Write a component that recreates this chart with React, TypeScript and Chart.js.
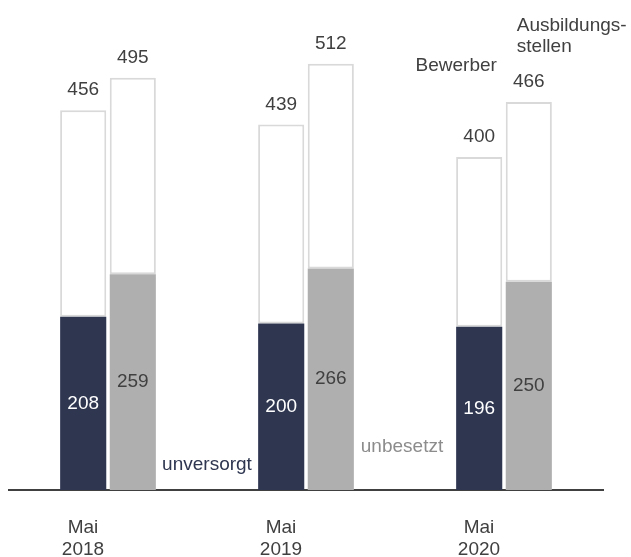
import React, { useEffect, useRef } from "react";
import { Chart, registerables } from "chart.js";

Chart.register(...registerables);

const categories: string[][] = [["Mai", "2018"], ["Mai", "2019"], ["Mai", "2020"]];
const bewerberTotal = [456, 439, 400];
const unversorgt = [208, 200, 196];
const stellenTotal = [495, 512, 466];
const unbesetzt = [259, 266, 250];

const FONT = "'Liberation Sans', Arial, sans-serif";
const TEXT = "#404040";
const NAVY = "#2e3650";
const GREY = "#afafaf";
const BORDER = "#d9d9d9";

const labelPlugin = {
  id: "labels",
  afterDatasetsDraw(chart: any) {
    const ctx = chart.ctx;
    const x = chart.scales.x;
    const y = chart.scales.y;
    ctx.save();
    ctx.font = `19px ${FONT}`;
    ctx.textBaseline = "middle";
    ctx.textAlign = "center";
    const m0 = chart.getDatasetMeta(0).data;
    const m1 = chart.getDatasetMeta(1).data;
    const m2 = chart.getDatasetMeta(2).data;
    const m3 = chart.getDatasetMeta(3).data;
    for (let i = 0; i < categories.length; i++) {
      const b0 = m0[i];
      ctx.fillStyle = "#ffffff";
      ctx.fillText(String(unversorgt[i]), b0.x, (b0.y + b0.base) / 2);
      const b2 = m2[i];
      ctx.fillStyle = TEXT;
      ctx.fillText(String(unbesetzt[i]), b2.x, (b2.y + b2.base) / 2);
      const b1 = m1[i];
      ctx.fillText(String(bewerberTotal[i]), b1.x, b1.y - 20);
      const b3 = m3[i];
      ctx.fillText(String(stellenTotal[i]), b3.x, b3.y - 20);
    }
    // annotations
    ctx.fillStyle = NAVY;
    ctx.fillText("unversorgt", (x.getPixelForValue(0) + x.getPixelForValue(1)) / 2, y.getPixelForValue(30));
    ctx.fillStyle = "#8c8c8c";
    ctx.fillText("unbesetzt", (x.getPixelForValue(1) + x.getPixelForValue(2)) / 2 - 3, y.getPixelForValue(52));
    ctx.fillStyle = TEXT;
    const last = categories.length - 1;
    ctx.fillText("Bewerber", m1[last].x - 23, y.getPixelForValue(510));
    ctx.textAlign = "left";
    ctx.fillText("Ausbildungs-", m3[last].x - 12, y.getPixelForValue(558));
    ctx.fillText("stellen", m3[last].x - 12, y.getPixelForValue(532));
    ctx.restore();
  },
};

export default function App() {
  const ref = useRef<HTMLCanvasElement | null>(null);
  useEffect(() => {
    document.body.style.margin = "0";
    document.body.style.overflow = "hidden";
    const chart = new Chart(ref.current as HTMLCanvasElement, {
      type: "bar",
      data: {
        labels: categories,
        datasets: [
          {
            label: "unversorgt",
            data: unversorgt,
            backgroundColor: NAVY,
            stack: "bew",
            borderWidth: 0,
          },
          {
            label: "Bewerber",
            data: bewerberTotal.map((v, i) => v - unversorgt[i]),
            backgroundColor: "#ffffff",
            borderColor: BORDER,
            borderWidth: 2,
            borderSkipped: false,
            stack: "bew",
          },
          {
            label: "unbesetzt",
            data: unbesetzt,
            backgroundColor: GREY,
            stack: "stel",
            borderWidth: 0,
          },
          {
            label: "Ausbildungsstellen",
            data: stellenTotal.map((v, i) => v - unbesetzt[i]),
            backgroundColor: "#ffffff",
            borderColor: BORDER,
            borderWidth: 2,
            borderSkipped: false,
            stack: "stel",
          },
        ],
      },
      options: {
        animation: false,
        responsive: false,
        maintainAspectRatio: false,
        layout: { padding: { left: 9, right: 28, top: 7, bottom: 0 } },
        datasets: { bar: { categoryPercentage: 0.501, barPercentage: 0.93 } },
        plugins: { legend: { display: false }, tooltip: { enabled: false } },
        scales: {
          x: {
            stacked: true,
            grid: { display: false, drawTicks: false },
            border: { display: true, color: TEXT, width: 2 },
            ticks: {
              color: TEXT,
              font: { family: FONT, size: 19, lineHeight: 1.15 },
              padding: 27,
              labelOffset: -25,
              maxRotation: 0,
              autoSkip: false,
            },
            afterFit: (scale: any) => {
              scale.height = 67;
            },
          },
          y: {
            stacked: true,
            display: false,
            min: 0,
            max: 580,
          },
        },
      },
      plugins: [labelPlugin],
    });
    return () => chart.destroy();
  }, []);
  return (
    <div style={{ position: "absolute", left: 0, top: 0, width: 631, height: 557 }}>
      <canvas ref={ref} width={631} height={557} style={{ width: 631, height: 557 }} />
    </div>
  );
}
